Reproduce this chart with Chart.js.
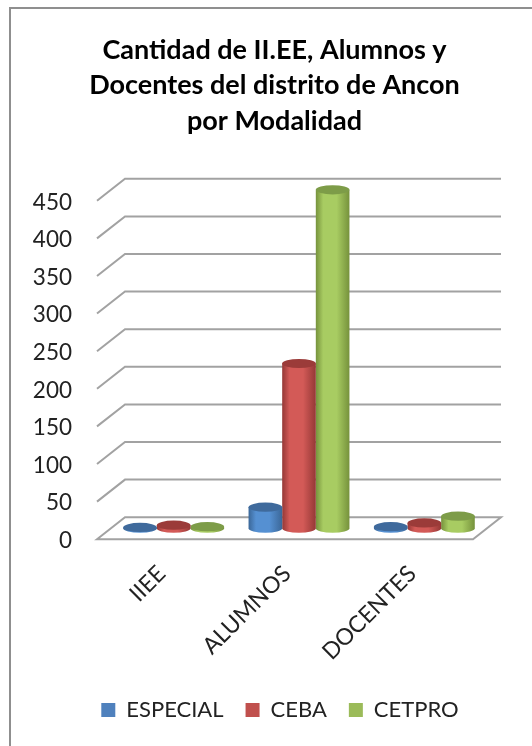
<!DOCTYPE html>
<html>
<head>
<meta charset="utf-8">
<style>html,body{margin:0;padding:0;background:#fff}canvas{display:block}</style>
<script src="https://cdn.jsdelivr.net/npm/chart.js@4"></script>
</head>
<body>
<canvas id="c" width="532" height="746"></canvas>
<script>
const categories = ["IIEE", "ALUMNOS", "DOCENTES"];
const seriesNames = ["ESPECIAL", "CEBA", "CETPRO"];
const especial = [1, 28, 2];
const ceba = [4, 219, 7];
const cetpro = [2, 450, 16];
const titleLines = ["Cantidad de II.EE, Alumnos y", "Docentes del distrito de Ancon", "por Modalidad"];
const legendColors = ["#4f81bd", "#c0504d", "#9bbb59"];
const bodyEdge = ["#3b6798", "#953836", "#76923c"];
const bodyMid = ["#5590d2", "#d35a57", "#a8cc62"];
const capColors = ["#3f6a9c", "#9b3b39", "#7d9c48"];

const depthX = 14, depthY = 11, capRy = 4.6;

class CylinderBar extends Chart.BarElement {
  static id = "cylinderBar";
  draw(ctx) {
    const {x, y, base, width} = this;
    const i = this.$series;
    const rx = width / 2, l = x - rx, r = x + rx;
    const g = ctx.createLinearGradient(l, 0, r, 0);
    g.addColorStop(0, bodyEdge[i]);
    g.addColorStop(0.22, bodyMid[i]);
    g.addColorStop(0.62, bodyMid[i]);
    g.addColorStop(1, bodyEdge[i]);
    ctx.save();
    ctx.beginPath();
    ctx.moveTo(l, y);
    ctx.lineTo(l, base);
    ctx.ellipse(x, base, rx, capRy, 0, Math.PI, 0, true);
    ctx.lineTo(r, y);
    ctx.closePath();
    ctx.fillStyle = g;
    ctx.fill();
    ctx.beginPath();
    ctx.ellipse(x, y, rx, capRy, 0, 0, Math.PI * 2);
    ctx.fillStyle = capColors[i];
    ctx.fill();
    ctx.restore();
  }
}

class CylinderController extends Chart.BarController {
  static id = "cylinder";
  static defaults = {...Chart.BarController.defaults, dataElementType: "cylinderBar"};
  updateElements(bars, start, count, mode) {
    super.updateElements(bars, start, count, mode);
    bars.forEach(b => { b.$series = this.index; });
  }
}
Chart.register(CylinderBar, CylinderController);

const walls = {
  id: "walls",
  beforeDraw(chart) {
    const {ctx} = chart;
    ctx.save();
    ctx.strokeStyle = "#8f8f8f";
    ctx.lineWidth = 2;
    ctx.beginPath();
    ctx.moveTo(10, 746);
    ctx.lineTo(10, 8);
    ctx.lineTo(532, 8);
    ctx.stroke();
    ctx.restore();
  },
  beforeDatasetsDraw(chart) {
    const {ctx, scales: {y}, chartArea: a} = chart;
    ctx.save();
    ctx.strokeStyle = "#a2a2a2";
    ctx.lineWidth = 2;
    ctx.lineJoin = "miter";
    y.ticks.forEach(t => {
      const p = y.getPixelForValue(t.value);
      ctx.beginPath();
      ctx.moveTo(a.left - depthX, p + depthY);
      ctx.lineTo(a.left + depthX, p - depthY);
      ctx.lineTo(a.right + depthX, p - depthY);
      if (t.value === 0) {
        ctx.lineTo(a.right - depthX, p + depthY);
        ctx.closePath();
      }
      ctx.stroke();
    });
    ctx.restore();
  },
  afterLayout(chart) {
    chart.legend.left += 32.5;
    chart.legend.right += 32.5;
    chart.titleBlock.left += 27;
    chart.titleBlock.right += 27;
  }
};

const makeSet = (label, data, i) => ({
  label, data,
  type: "cylinder",
  backgroundColor: legendColors[i],
  borderWidth: 0,
  categoryPercentage: 0.805,
  barPercentage: 1,
  clip: false
});

new Chart(document.getElementById("c"), {
  type: "cylinder",
  data: {
    labels: categories,
    datasets: [makeSet(seriesNames[0], especial, 0), makeSet(seriesNames[1], ceba, 1), makeSet(seriesNames[2], cetpro, 2)]
  },
  plugins: [walls],
  options: {
    responsive: false,
    animation: false,
    layout: {padding: {left: 8, right: 45, top: 0, bottom: 15}},
    plugins: {
      tooltip: {enabled: false},
      title: {
        display: true,
        text: titleLines,
        color: "#000",
        font: {family: "Lato", size: 27, weight: "bold", lineHeight: 1.322},
        padding: {top: 32, bottom: 50.7}
      },
      legend: {
        position: "bottom",
        labels: {
          color: "#222",
          font: {family: "Lato", size: 22},
          boxWidth: 14,
          boxHeight: 14,
          padding: 22
        }
      }
    },
    scales: {
      x: {
        grid: {display: false, drawTicks: false},
        border: {display: false},
        ticks: {
          color: "#222",
          font: {family: "Lato", size: 23},
          autoSkip: false,
          minRotation: 45,
          maxRotation: 45,
          padding: 32,
          labelOffset: -12
        },
        afterFit(s) { s.height = 148.8; }
      },
      y: {
        min: 0,
        max: 450,
        grid: {display: false, drawTicks: false},
        border: {display: false},
        ticks: {
          stepSize: 50,
          color: "#222",
          font: {family: "Lato", size: 22.5},
          padding: 39,
          labelOffset: 12.5
        },
        afterFit(s) { s.width = 103; }
      }
    }
  }
});
</script>
</body>
</html>
